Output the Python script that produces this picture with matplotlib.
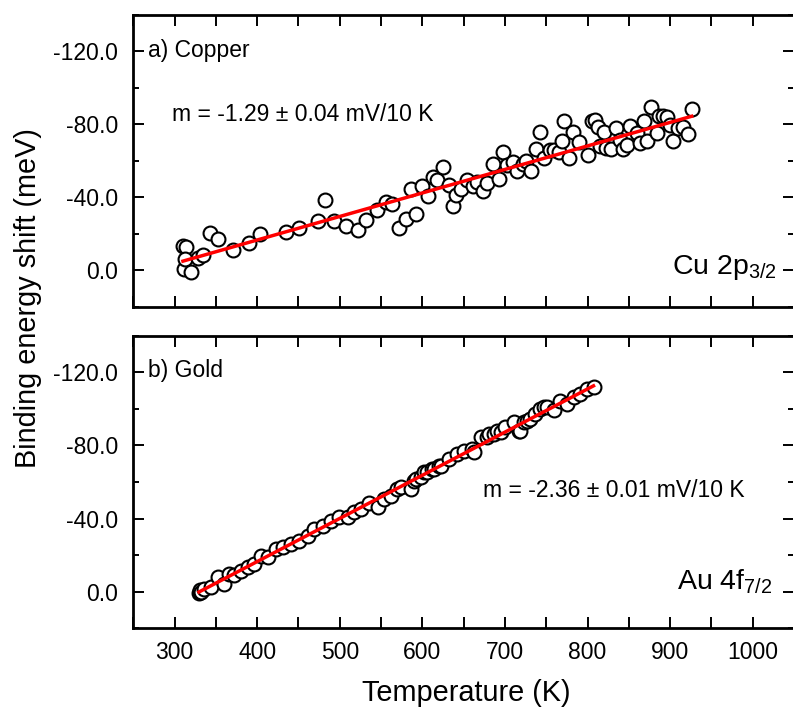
import numpy as np
import matplotlib
matplotlib.use("Agg")
import matplotlib.pyplot as plt
from matplotlib.ticker import MultipleLocator, FormatStrFormatter

### Cu 2p3/2 : temperature (K) and binding energy shift (meV)
cu_T = np.array([310.1, 314.1, 311.4, 312.9, 320.2, 328.3, 334.3, 342.3, 352.4, 370.5,
                 390.6, 403.9, 434.9, 451.0, 473.2, 482.0, 493.2, 507.4, 521.5, 531.5,
                 544.8, 555.7, 563.8, 571.7, 579.8, 591.9, 585.9, 600.0, 606.8, 613.3,
                 618.1, 625.4, 632.1, 637.4, 640.2, 646.3, 654.3, 661.6, 666.4, 673.7,
                 678.5, 685.7, 692.5, 697.8, 702.7, 709.9, 714.7, 722.0, 726.0, 731.6,
                 738.1, 742.9, 747.7, 754.1, 758.9, 765.0, 769.1, 771.9, 777.1, 782.4,
                 789.1, 800.0, 805.3, 809.3, 812.1, 815.3, 820.2, 822.6, 828.3, 834.7,
                 839.5, 842.8, 847.6, 851.6, 859.7, 863.7, 868.5, 872.5, 876.6, 884.5,
                 887.0, 891.1, 895.9, 899.9, 903.9, 909.9, 916.0, 922.0, 926.1])
cu_E = np.array([-13.3, -12.7, -0.9, -6.0, 0.9, -6.9, -8.2, -20.2, -16.9, -11.1,
                 -15.1, -20.1, -20.9, -23.3, -26.9, -38.8, -26.9, -24.2, -21.9, -27.5,
                 -33.3, -37.3, -36.1, -23.3, -28.3, -30.6, -44.6, -46.4, -40.6, -51.2,
                 -49.3, -56.7, -47.0, -35.5, -41.5, -44.6, -49.3, -46.1, -48.3, -43.3,
                 -47.9, -58.5, -50.1, -64.6, -57.9, -59.2, -54.3, -58.5, -59.7, -54.3,
                 -66.5, -75.6, -61.6, -66.1, -66.1, -64.6, -70.7, -82.1, -61.6, -75.6,
                 -70.1, -63.4, -81.6, -82.5, -78.5, -67.9, -75.6, -67.0, -66.5, -78.0,
                 -71.6, -66.5, -68.9, -78.9, -75.2, -69.8, -82.1, -70.7, -89.8, -75.2,
                 -84.7, -84.7, -84.3, -79.8, -70.7, -78.0, -78.5, -74.9, -88.4])

### Au 4f7/2
au_T = np.array([329.5, 330.2, 330.5, 332.0, 336.2, 344.3, 352.4, 360.4, 366.4, 372.5,
                 380.6, 388.6, 396.6, 404.7, 412.8, 422.8, 430.9, 440.9, 451.0, 461.1,
                 469.1, 479.2, 489.3, 499.3, 509.4, 517.4, 525.5, 535.5, 545.7, 553.6,
                 561.7, 569.8, 573.8, 585.9, 589.9, 591.9, 597.9, 601.9, 606.0, 612.1,
                 614.0, 620.0, 622.1, 632.1, 642.3, 650.2, 660.4, 662.3, 670.4, 678.5,
                 680.4, 686.5, 690.6, 694.6, 700.6, 710.6, 716.7, 718.7, 722.7, 726.8,
                 730.8, 736.8, 742.9, 746.9, 750.9, 758.9, 767.0, 775.1, 783.1, 791.2,
                 799.3, 807.2])
au_E = np.array([0.8, 0.4, -1.0, 0.3, -1.5, -2.4, -7.8, -4.2, -9.7, -9.3,
                 -11.5, -13.3, -15.2, -19.7, -18.8, -23.4, -24.2, -26.1, -27.9, -30.6,
                 -34.3, -36.1, -38.9, -41.0, -40.7, -43.4, -45.3, -48.3, -46.1, -50.7,
                 -52.5, -56.2, -57.1, -56.2, -60.7, -61.7, -62.5, -65.3, -65.3, -67.1,
                 -67.1, -69.0, -68.9, -72.6, -75.3, -77.2, -78.1, -76.2, -84.4, -84.4,
                 -86.3, -86.3, -88.1, -87.2, -89.9, -92.6, -87.7, -88.1, -92.6, -93.6,
                 -94.5, -97.2, -100.0, -100.8, -100.8, -99.4, -104.5, -102.7, -106.3, -108.2,
                 -110.9, -111.8])

### Linear fits (meV/K, meV)
cu_slope, cu_icpt = -0.129, 35.0
au_slope, au_icpt = -0.236, 77.9

cu_label = "m = -1.29 \u00b1 0.04 mV/10 K"
au_label = "m = -2.36 \u00b1 0.01 mV/10 K"


def style_axes(ax, show_xlabels):
    ax.set_xlim(250, 1050)
    ax.set_ylim(20, -140)
    ax.xaxis.set_major_locator(MultipleLocator(100))
    ax.xaxis.set_minor_locator(MultipleLocator(50))
    ax.yaxis.set_major_locator(MultipleLocator(40))
    ax.yaxis.set_minor_locator(MultipleLocator(20))
    ax.yaxis.set_major_formatter(FormatStrFormatter("%.1f"))
    ax.tick_params(which="both", direction="in", top=True, right=True, width=1.4)
    ax.tick_params(axis="x", which="both", length=8)
    ax.tick_params(axis="y", which="major", length=8, pad=11)
    ax.tick_params(axis="y", which="minor", length=4)
    ax.tick_params(axis="x", which="major", pad=9, labelbottom=show_xlabels)
    ax.tick_params(labelsize=16.5)
    for s in ax.spines.values():
        s.set_linewidth(2)


def panel(ax, T, E, slope, icpt):
    ax.plot(T, E, "o", ms=10, mfc="white", mec="black", mew=1.5, zorder=2)
    tt = np.array([T.min(), T.max()])
    ax.plot(tt, icpt + slope * tt, color="red", lw=2.5, zorder=3)


def main():
    plt.rcParams["font.family"] = ["Liberation Sans", "DejaVu Sans"]
    plt.rcParams["axes.unicode_minus"] = False
    plt.rcParams["mathtext.fontset"] = "custom"
    plt.rcParams["mathtext.rm"] = "Liberation Sans"

    fig = plt.figure(figsize=(7.93, 7.11), dpi=100)
    ax1 = fig.add_axes([0.1681, 0.5686, 0.8332, 0.4103])
    ax2 = fig.add_axes([0.1681, 0.1163, 0.8332, 0.4115])

    panel(ax1, cu_T, cu_E, cu_slope, cu_icpt)
    panel(ax2, au_T, au_E, au_slope, au_icpt)
    style_axes(ax1, False)
    style_axes(ax2, True)

    ax1.text(0.022, 0.88, "a) Copper", transform=ax1.transAxes, fontsize=16.5, va="center")
    ax1.text(297, -85.2, cu_label, fontsize=16.5, va="center")
    ax1.text(1029, 2.2, r"Cu 2p$_{\mathregular{3/2}}$", fontsize=20.5, ha="right", va="baseline")

    ax2.text(0.022, 0.88, "b) Gold", transform=ax2.transAxes, fontsize=16.5, va="center")
    ax2.text(674, -55.3, au_label, fontsize=16.5, va="center")
    ax2.text(1024, -1.5, r"Au 4f$_{\mathregular{7/2}}$", fontsize=20.5, ha="right", va="baseline")

    fig.text(0.035, 1 - 298 / 711, "Binding energy shift (meV)", rotation=90,
             fontsize=20.8, ha="center", va="center")
    fig.text(466 / 793, 1 - 693 / 711, "Temperature (K)", fontsize=20.8,
             ha="center", va="center")

    fig.savefig("out.png", dpi=100)


if __name__ == "__main__":
    main()
